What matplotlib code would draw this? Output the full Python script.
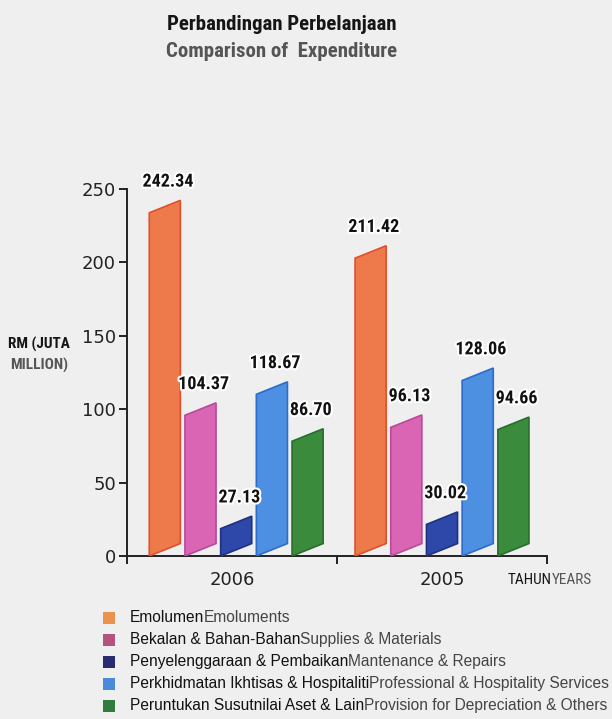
import numpy as np
import matplotlib.pyplot as plt
import matplotlib.patheffects as pe
from matplotlib.patches import Rectangle

# data (RM million)
years = ['2006', '2005']
malay = ['Emolumen', 'Bekalan & Bahan-Bahan', 'Penyelenggaraan & Pembaikan',
         'Perkhidmatan Ikhtisas & Hospitaliti', 'Peruntukan Susutnilai Aset & Lain']
english = ['Emoluments', 'Supplies & Materials', 'Mantenance & Repairs',
           'Professional & Hospitality Services', 'Provision for Depreciation & Others']
values_2006 = [242.34, 104.37, 27.13, 118.67, 86.70]
values_2005 = [211.42, 96.13, 30.02, 128.06, 94.66]

bar_colors = ['#EE7A4C', '#D965B4', '#2D48A8', '#4D8FE0', '#3A8C3C']
edge_colors = ['#E0502A', '#B84A98', '#1E3280', '#2D6CC8', '#2A6E2E']
legend_colors = ['#EB934E', '#B4547E', '#2A2C72', '#4A8ADA', '#2F7C3C']

bg = '#EFEFEF'
narrow = ['Roboto Condensed', 'Archivo Narrow', 'PT Sans Narrow', 'Roboto', 'DejaVu Sans']
plain = ['Liberation Sans', 'DejaVu Sans']

fig = plt.figure(figsize=(6.12, 7.19), dpi=100, facecolor=bg)
ax = fig.add_axes([0.2075, 0.2267, 0.6863, 0.5103], facecolor=bg)

centers = [0.52, 1.5]
offsets = np.arange(-2, 3) * 0.17
width = 0.148
slant = 8.5  # rise across the bar top (data units)

for g, vals in enumerate([values_2006, values_2005]):
    for i, v in enumerate(vals):
        x0 = centers[g] + offsets[i] - width / 2
        x1 = x0 + width
        ax.fill([x0, x1, x1, x0], [0, slant, v, v - slant],
                facecolor=bar_colors[i], edgecolor=edge_colors[i], linewidth=1.2,
                zorder=3)
        ax.annotate(f'{v:.2f}', xy=(centers[g] + offsets[i] + 0.015, v),
                    xytext=(0, 7), textcoords='offset points',
                    ha='center', va='bottom', fontsize=13, fontweight='bold',
                    family=narrow, color='#111111', clip_on=False, zorder=6,
                    path_effects=[pe.withStroke(linewidth=3, foreground='white')])

ax.set_xlim(0, 2)
ax.set_ylim(0, 250)
ax.set_yticks([0, 50, 100, 150, 200, 250])
ax.set_xticks([0, 1, 2])
ax.set_xticklabels([])
ax.set_xticks([0.5, 1.5], minor=True)
ax.set_xticklabels(years, minor=True)
ax.tick_params(axis='x', which='minor', length=0, pad=11, labelsize=13)
ax.tick_params(axis='x', which='major', length=6, width=1.4, color='#222222')
ax.tick_params(axis='y', length=6, width=1.4, color='#222222', labelsize=13, pad=2)
for lab in ax.get_xticklabels(minor=True) + ax.get_yticklabels():
    lab.set_color('#222222')

for s in ['top', 'right']:
    ax.spines[s].set_visible(False)
for s in ['left', 'bottom']:
    ax.spines[s].set_linewidth(1.4)
    ax.spines[s].set_color('#222222')

# titles
fig.text(0.46, 0.966, 'Perbandingan Perbelanjaan', ha='center', va='center',
         fontsize=15, fontweight='bold', family=narrow, color='#151515')
fig.text(0.46, 0.928, 'Comparison of  Expenditure', ha='center', va='center',
         fontsize=15, fontweight='bold', family=narrow, color='#555555')

# y axis label
fig.text(0.064, 0.521, 'RM (JUTA', ha='center', va='center', fontsize=11,
         fontweight='bold', family=narrow, color='#151515')
fig.text(0.064, 0.491, 'MILLION)', ha='center', va='center', fontsize=11,
         fontweight='bold', family=narrow, color='#555555')

# x axis unit
t = fig.text(0.83, 0.193, 'TAHUN', ha='left', va='center', fontsize=11,
             family=narrow, color='#151515')
ax.annotate('YEARS', xy=(1, 0), xycoords=t, ha='left', va='bottom',
            fontsize=11, family=narrow, color='#555555')

# legend drawn by hand: square + malay + english
for i in range(len(malay)):
    y = 0.1405 - i * 0.0306
    fig.patches.append(Rectangle((0.168, y - 0.009), 0.020, 0.018,
                                 transform=fig.transFigure, facecolor=legend_colors[i],
                                 edgecolor='none'))
    tm = fig.text(0.212, y, malay[i], ha='left', va='center', fontsize=11.2,
                  family=plain, color='#111111')
    ax.annotate(english[i], xy=(1, 0), xycoords=tm, ha='left', va='bottom',
                fontsize=11.2, family=plain, color='#444444')

fig.savefig('out.png', dpi=100, facecolor=bg)
